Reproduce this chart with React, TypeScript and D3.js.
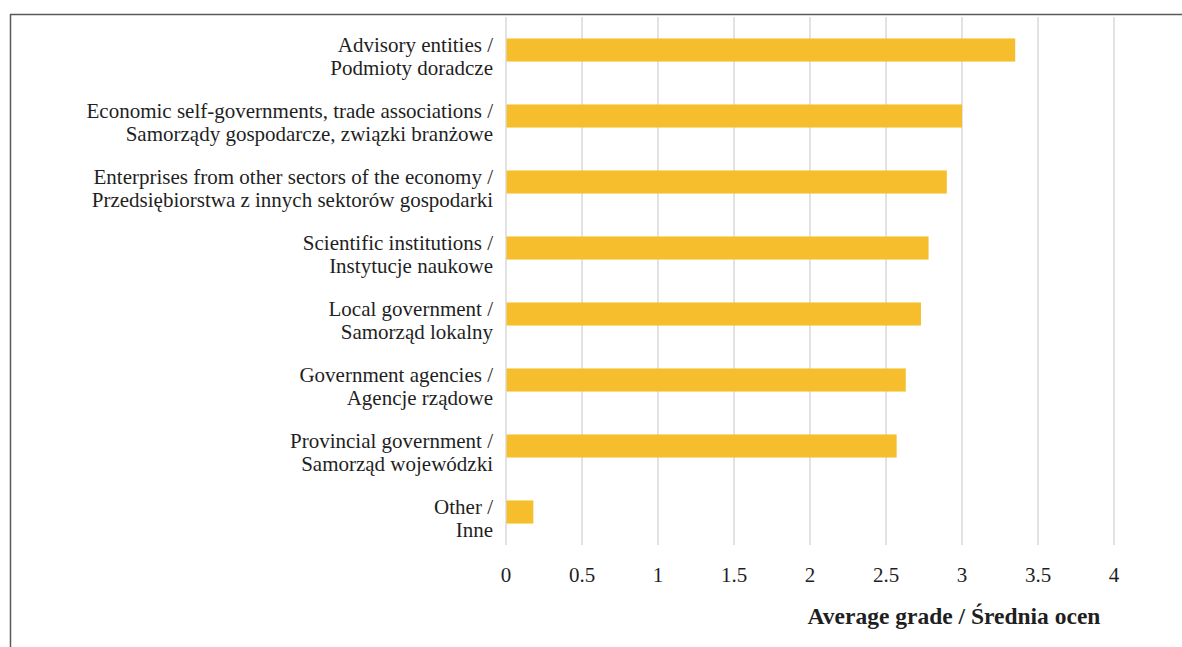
import { useEffect, useRef } from 'react'
import * as d3 from 'd3'

const categoriesEn = [
  'Advisory entities /',
  'Economic self-governments, trade associations /',
  'Enterprises from other sectors of the economy /',
  'Scientific institutions /',
  'Local government /',
  'Government agencies /',
  'Provincial government /',
  'Other /',
]
const categoriesPl = [
  'Podmioty doradcze',
  'Samorządy gospodarcze, związki branżowe',
  'Przedsiębiorstwa z innych sektorów gospodarki',
  'Instytucje naukowe',
  'Samorząd lokalny',
  'Agencje rządowe',
  'Samorząd wojewódzki',
  'Inne',
]
const averageGrade = [3.35, 3.0, 2.9, 2.78, 2.73, 2.63, 2.57, 0.18]
const xTicks = [0, 0.5, 1, 1.5, 2, 2.5, 3, 3.5, 4]
const axisTitle = 'Average grade / Średnia ocen'

const W = 1182
const H = 647

export default function App() {
  const ref = useRef<SVGSVGElement>(null)

  useEffect(() => {
    if (!ref.current) return
    const svg = d3.select(ref.current)
    svg.selectAll('*').remove()

    const left = 506
    const right = 1114
    const top = 17
    const bottom = 545

    // frame (only top and left edges visible)
    svg.append('line')
      .attr('x1', 10).attr('x2', W).attr('y1', 14.5).attr('y2', 14.5)
      .attr('stroke', '#595959').attr('stroke-width', 1.5)
    svg.append('line')
      .attr('x1', 10.5).attr('x2', 10.5).attr('y1', 14).attr('y2', H)
      .attr('stroke', '#595959').attr('stroke-width', 1.5)

    const x = d3.scaleLinear().domain([0, 4]).range([left, right])
    const y = d3.scaleBand<number>()
      .domain(d3.range(categoriesEn.length))
      .range([top, bottom])
      .paddingInner(0.65)
      .paddingOuter(0.325)

    // gridlines
    svg.append('g')
      .selectAll('line')
      .data(xTicks)
      .join('line')
      .attr('x1', d => x(d)).attr('x2', d => x(d))
      .attr('y1', top).attr('y2', bottom)
      .attr('stroke', '#d9d9d9').attr('stroke-width', 1.5)

    // bars
    svg.append('g')
      .selectAll('rect')
      .data(averageGrade)
      .join('rect')
      .attr('x', x(0) + 0.5)
      .attr('y', (_, i) => y(i)!)
      .attr('width', d => x(d) - x(0) - 0.5)
      .attr('height', y.bandwidth())
      .attr('fill', '#F6BE2D')

    // category labels
    const labels = svg.append('g')
      .style('font-family', 'Liberation Serif, serif')
      .style('font-size', '21px')
      .attr('fill', '#1f1f1f')
      .attr('text-anchor', 'end')
    categoriesEn.forEach((en, i) => {
      const cy = y(i)! + y.bandwidth() / 2
      labels.append('text').attr('x', 493).attr('y', cy + 2).text(en)
      labels.append('text').attr('x', 493).attr('y', cy + 24.5).text(categoriesPl[i])
    })

    // tick labels
    svg.append('g')
      .style('font-family', 'Liberation Serif, serif')
      .style('font-size', '21px')
      .attr('fill', '#1f1f1f')
      .attr('text-anchor', 'middle')
      .selectAll('text')
      .data(xTicks)
      .join('text')
      .attr('x', d => x(d))
      .attr('y', 582)
      .text(d => String(d))

    // axis title
    svg.append('text')
      .attr('x', 954)
      .attr('y', 624)
      .attr('text-anchor', 'middle')
      .style('font-family', 'Liberation Serif, serif')
      .style('font-size', '23.5px')
      .style('font-weight', 'bold')
      .attr('fill', '#1f1f1f')
      .text(axisTitle)
  }, [])

  return (
    <div style={{ position: 'absolute', left: 0, top: 0 }}>
      <svg ref={ref} width={W} height={H} viewBox={`0 0 ${W} ${H}`} style={{ display: 'block', background: '#fff' }} />
    </div>
  )
}
